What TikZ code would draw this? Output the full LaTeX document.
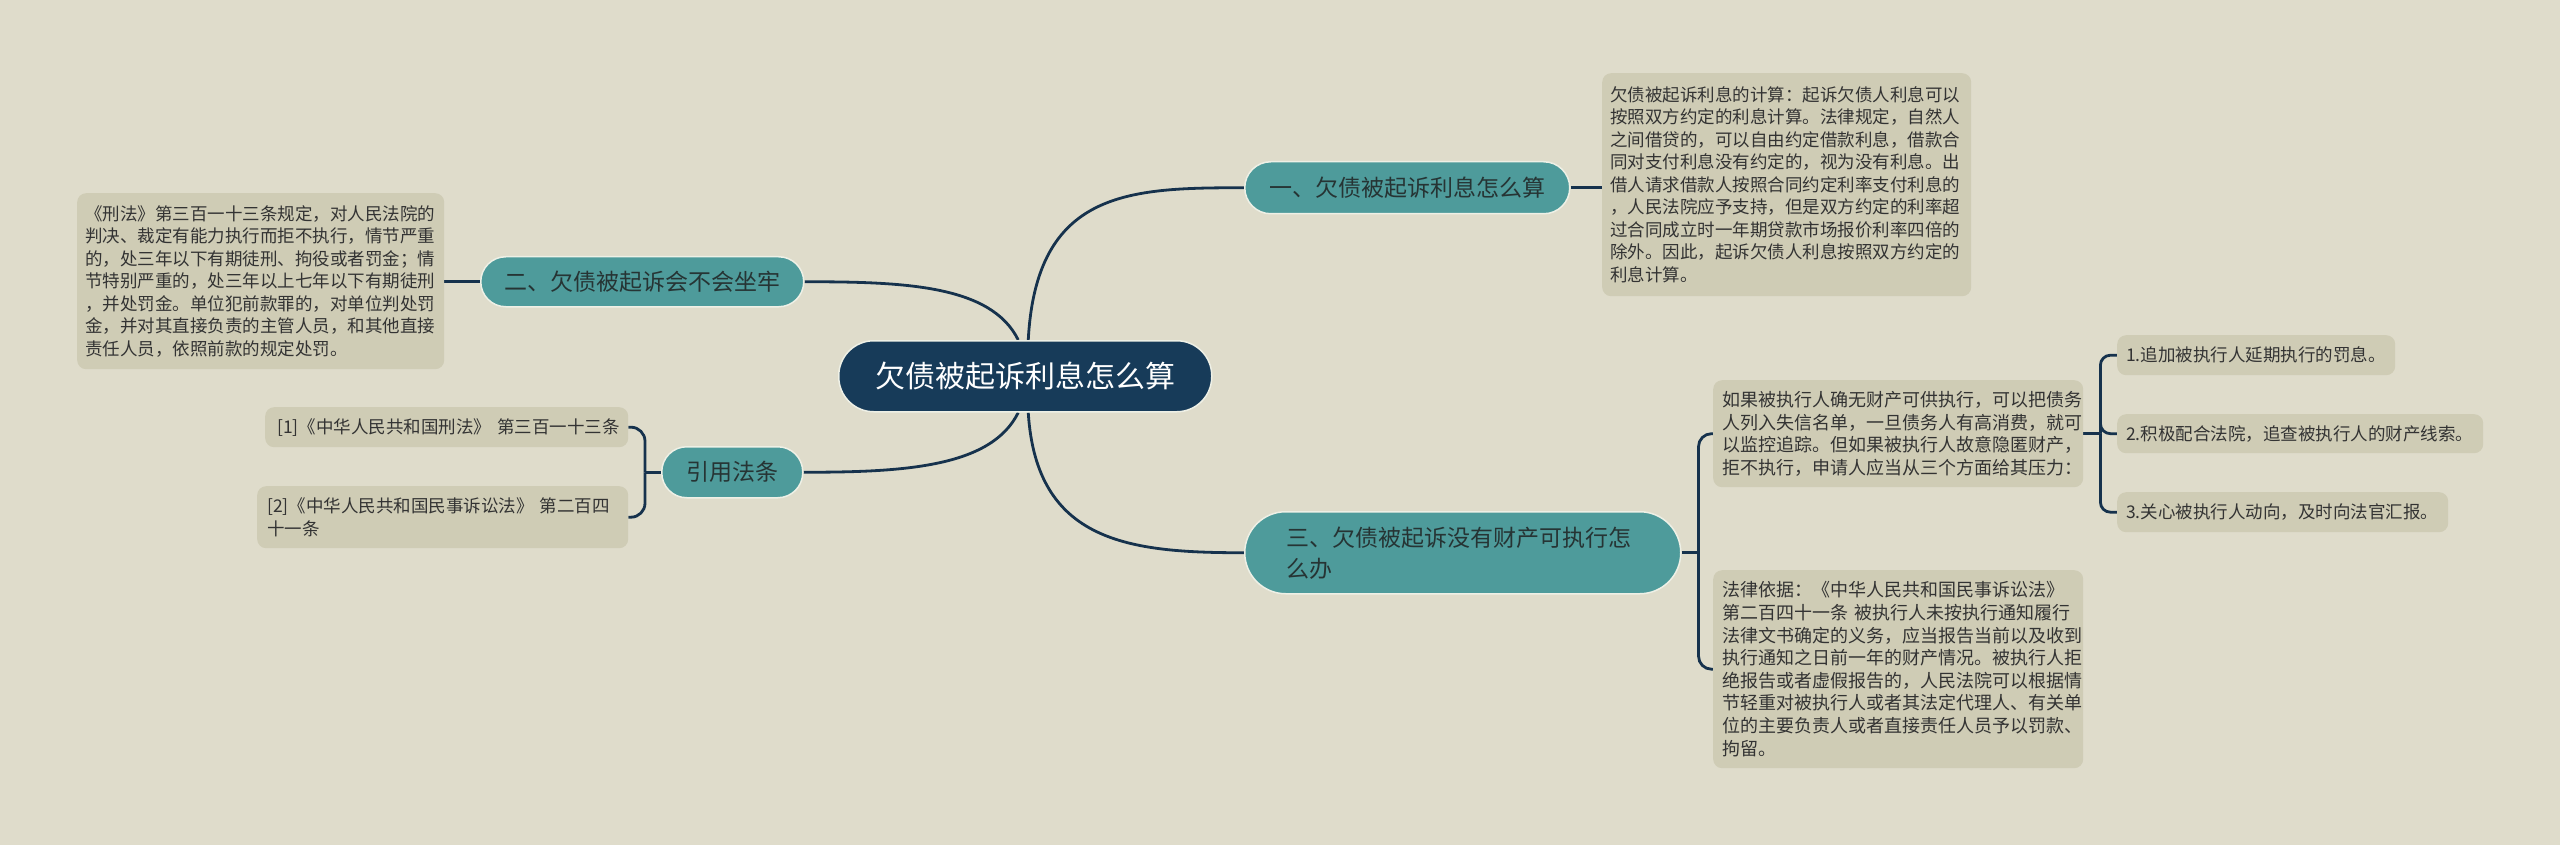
\documentclass[tikz,border=0pt]{standalone}
\usepackage{fontspec}
\setmainfont{Noto Sans CJK SC}
\usetikzlibrary{calc,backgrounds}
\definecolor{bg}{HTML}{DFDCCB}
\definecolor{boxfill}{HTML}{CFCCB5}
\definecolor{tealc}{HTML}{4E9B9B}
\definecolor{navy}{HTML}{173B59}
\definecolor{linec}{HTML}{16324D}
\definecolor{txt}{HTML}{333333}
\definecolor{btxt}{HTML}{263434}
\definecolor{rim}{HTML}{EEF0E6}
\tikzset{
  conn/.style={draw=linec, line width=2.8pt},
  rootnode/.style={anchor=north west, fill=navy, draw=rim, line width=1.5pt, text=white,
    font=\fontsize{30}{36}\selectfont, inner sep=0pt, rounded corners=35pt,
    minimum width=373pt, minimum height=71pt},
  branch/.style={anchor=north west, fill=tealc, draw=rim, line width=1.5pt, text=btxt,
    font=\fontsize{23}{31}\selectfont, inner sep=0pt, align=left},
  detail/.style={anchor=north west, fill=boxfill, text=txt, rounded corners=9pt,
    inner ysep=0pt, align=left, font=\fontsize{17.5}{22.5}\selectfont},
  detailb/.style={detail, font=\fontsize{18}{22.6}\selectfont},
}
\begin{document}
\begin{tikzpicture}[x=1pt,y=-1pt]
\useasboundingbox (0,0) rectangle (2560,845);

% root
\node[rootnode] (root) at (838,340) {欠债被起诉利息怎么算};

% branch 1
\node[branch, rounded corners=26pt, minimum width=325pt, minimum height=52pt] (b1) at (1244,161) {一、欠债被起诉利息怎么算};
\node[detail, inner xsep=8pt, text width=353pt, minimum height=223pt] (d1) at (1602,73)
 {欠债被起诉利息的计算：起诉欠债人利息可以\\按照双方约定的利息计算。法律规定，自然人\\之间借贷的，可以自由约定借款利息，借款合\\同对支付利息没有约定的，视为没有利息。出\\借人请求借款人按照合同约定利率支付利息的\\，人民法院应予支持，但是双方约定的利率超\\过合同成立时一年期贷款市场报价利率四倍的\\除外。因此，起诉欠债人利息按照双方约定的\\利息计算。};

% branch 2
\node[branch, rounded corners=25pt, minimum width=323pt, minimum height=50pt] (b2) at (480,256) {二、欠债被起诉会不会坐牢};
\node[detail, inner xsep=8pt, text width=351pt, minimum height=176pt] (d2) at (77,193)
 {《刑法》第三百一十三条规定，对人民法院的\\判决、裁定有能力执行而拒不执行，情节严重\\的，处三年以下有期徒刑、拘役或者罚金；情\\节特别严重的，处三年以上七年以下有期徒刑\\，并处罚金。单位犯前款罪的，对单位判处罚\\金，并对其直接负责的主管人员，和其他直接\\责任人员，依照前款的规定处罚。};

% branch 4 (refs)
\node[branch, rounded corners=25pt, minimum width=141pt, minimum height=51pt] (b4) at (661,446) {引用法条};
\node[detail, inner xsep=12pt, text width=339pt, minimum height=40pt] (r1) at (265,407)
 {\mbox{[1]《中华人民共和国刑法》~第三百一十三条}};
\node[detail, inner xsep=10pt, text width=351pt, minimum height=62pt] (r2) at (257,486)
 {\mbox{[2]《中华人民共和国民事诉讼法》~第二百四}\\十一条};

% branch 3
\node[branch, rounded corners=41pt, minimum width=436pt, minimum height=82pt, text width=352pt] (b3) at (1244,511)
 {三、欠债被起诉没有财产可执行怎\\么办};
\node[detailb, inner xsep=9pt, text width=352pt, minimum height=107pt] (d3) at (1713,380)
 {如果被执行人确无财产可供执行，可以把债务\\人列入失信名单，一旦债务人有高消费，就可\\以监控追踪。但如果被执行人故意隐匿财产，\\拒不执行，申请人应当从三个方面给其压力：};
\node[detailb, inner xsep=9pt, text width=352pt, minimum height=198pt] (d4) at (1713,570)
 {法律依据：《中华人民共和国民事诉讼法》\\\mbox{第二百四十一条~被执行人未按执行通知履行}\\法律文书确定的义务，应当报告当前以及收到\\执行通知之日前一年的财产情况。被执行人拒\\绝报告或者虚假报告的，人民法院可以根据情\\节轻重对被执行人或者其法定代理人、有关单\\位的主要负责人或者直接责任人员予以罚款、\\拘留。};

% items
\node[detail, inner xsep=9pt, text width=260pt, minimum height=40pt] (i1) at (2117,335)
 {1.追加被执行人延期执行的罚息。};
\node[detail, inner xsep=9pt, text width=348pt, minimum height=39pt] (i2) at (2117,414)
 {2.积极配合法院，追查被执行人的财产线索。};
\node[detail, inner xsep=9pt, text width=313pt, minimum height=40pt] (i3) at (2117,492)
 {3.关心被执行人动向，及时向法官汇报。};

\begin{scope}[on background layer]
\fill[bg] (0,0) rectangle (2560,845);
% main curves
\draw[conn] ($(root.north)+(3,0)$) .. controls +(8,-150) and +(-115,0) .. (b1.west);
\draw[conn] ($(root.north)+(-7,0)$) .. controls +(-27,-55) and +(100,0) .. (b2.east);
\draw[conn] ($(root.south)+(-7,0)$) .. controls +(-27,55) and +(100,0) .. (b4.east);
\draw[conn] ($(root.south)+(3,0)$) .. controls +(8,130) and +(-115,0) .. (b3.west);
% simple links
\draw[conn] (b1.east) -- (b1.east -| d1.west);
\draw[conn] (b2.west) -- (b2.west -| d2.east);
% refs bracket
\coordinate (j3) at ($(b4.west)+(-16,0)$);
\draw[conn] (b4.west) -- (j3);
\draw[conn, rounded corners=14pt] (j3) |- (r1.east);
\draw[conn, rounded corners=14pt] (j3) |- (r2.east);
% branch 3 bracket
\coordinate (j2) at ($(b3.east)+(17,0)$);
\draw[conn] (b3.east) -- (j2);
\draw[conn, rounded corners=13pt] (j2) |- (d3.west);
\draw[conn, rounded corners=13pt] (j2) |- (d4.west);
% items bracket
\coordinate (j1) at ($(d3.east)+(17,0)$);
\draw[conn] (d3.east) -- (j1);
\draw[conn, rounded corners=10pt] (j1) |- (i1.west);
\draw[conn, rounded corners=10pt] (j1) |- (i2.west);
\draw[conn, rounded corners=10pt] (j1) |- (i3.west);
\end{scope}
\end{tikzpicture}
\end{document}
